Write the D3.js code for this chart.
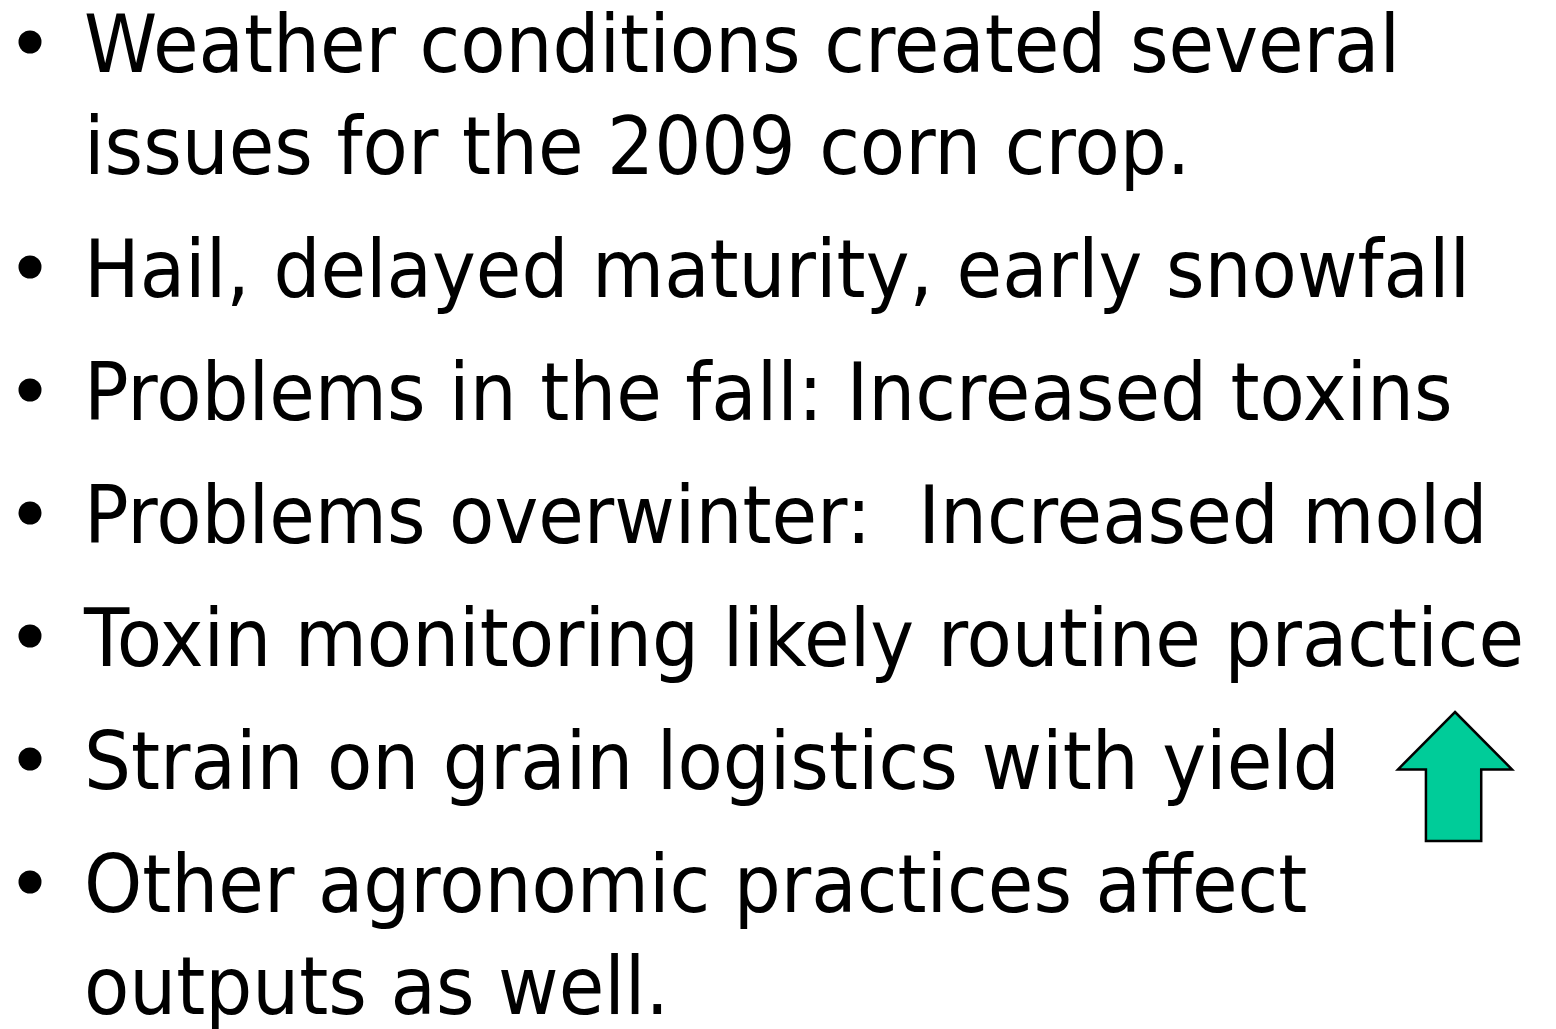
<!DOCTYPE html>
<html>
<head>
<meta charset="utf-8">
<script src="https://cdn.jsdelivr.net/npm/d3@7"></script>
<style>
  html, body { margin: 0; padding: 0; background: #ffffff; }
  svg { display: block; }
  text { white-space: pre; }
</style>
</head>
<body>
<div id="slide"></div>
<script>
// slide content: one entry per bullet, each bullet is a list of wrapped lines
var bullets = [
  ["Weather conditions created several", "issues for the 2009 corn crop."],
  ["Hail, delayed maturity, early snowfall"],
  ["Problems in the fall: Increased toxins"],
  ["Problems overwinter:  Increased mold"],
  ["Toxin monitoring likely routine practice"],
  ["Strain on grain logistics with yield"],
  ["Other agronomic practices affect", "outputs as well."]
];
// bullet that carries the "up" arrow
var arrowBullet = 5;

var width = 1556, height = 1029;
var fontSize = 81;

var svg = d3.select("#slide").append("svg")
            .attr("width", width)
            .attr("height", height);

// flatten into rows with running line / bullet index
var rows = [];
bullets.forEach(function (b, bi) {
  b.forEach(function (t, li) {
    rows.push({ text: t, bullet: bi, first: li === 0, line: rows.length });
  });
});

// baseline = line pitch + extra space between bullets
var lineY = d3.scaleLinear().domain([0, 1]).range([72, 174]);
var bulletGap = d3.scaleLinear().domain([0, 1]).range([0, 21]);
function baseline(d) { return lineY(d.line) + bulletGap(d.bullet); }

var textX = 84;

var rowG = svg.selectAll("g.row")
              .data(rows)
              .enter()
              .append("g")
              .attr("class", "row");

rowG.filter(function (d) { return d.first; })
    .append("circle")
    .attr("cx", 30)
    .attr("cy", function (d) { return baseline(d) - 30; })
    .attr("r", 11.5)
    .style("fill", "#000");

var texts = rowG.append("text")
                .attr("x", textX)
                .attr("y", baseline)
                .attr("font-family", "'DejaVu Sans', Verdana, sans-serif")
                .attr("font-size", fontSize)
                .style("fill", "#000")
                .text(function (d) { return d.text; });

// the original face is narrower than DejaVu Sans: squeeze all lines by the
// same factor, taken from the first line's measured width
var firstLen = texts.node().getComputedTextLength();
var squeeze = (1400 - textX) / firstLen;
texts.each(function () {
  var len = this.getComputedTextLength();
  d3.select(this)
    .attr("textLength", len * squeeze)
    .attr("lengthAdjust", "spacingAndGlyphs");
});

// green up arrow after the "yield" line
var arrowRow = rows.filter(function (d) { return d.bullet === arrowBullet; })[0];
var by = baseline(arrowRow);
var ax = d3.scaleLinear().domain([0, 1]).range([1398, 1512]);   // arrow width
var ay = d3.scaleLinear().domain([0, 1]).range([by - 77, by + 52]); // arrow height
var arrowShape = [
  [0.5, 0], [1, 0.445], [0.73, 0.445], [0.73, 1],
  [0.245, 1], [0.245, 0.445], [0, 0.445]
];
svg.append("path")
   .attr("d", d3.line().x(function (p) { return ax(p[0]); })
                       .y(function (p) { return ay(p[1]); })
                       .curve(d3.curveLinearClosed)(arrowShape))
   .style("fill", "#00cc99")
   .style("stroke", "#000")
   .style("stroke-width", 2.5)
   .style("stroke-linejoin", "miter");
</script>
</body>
</html>
